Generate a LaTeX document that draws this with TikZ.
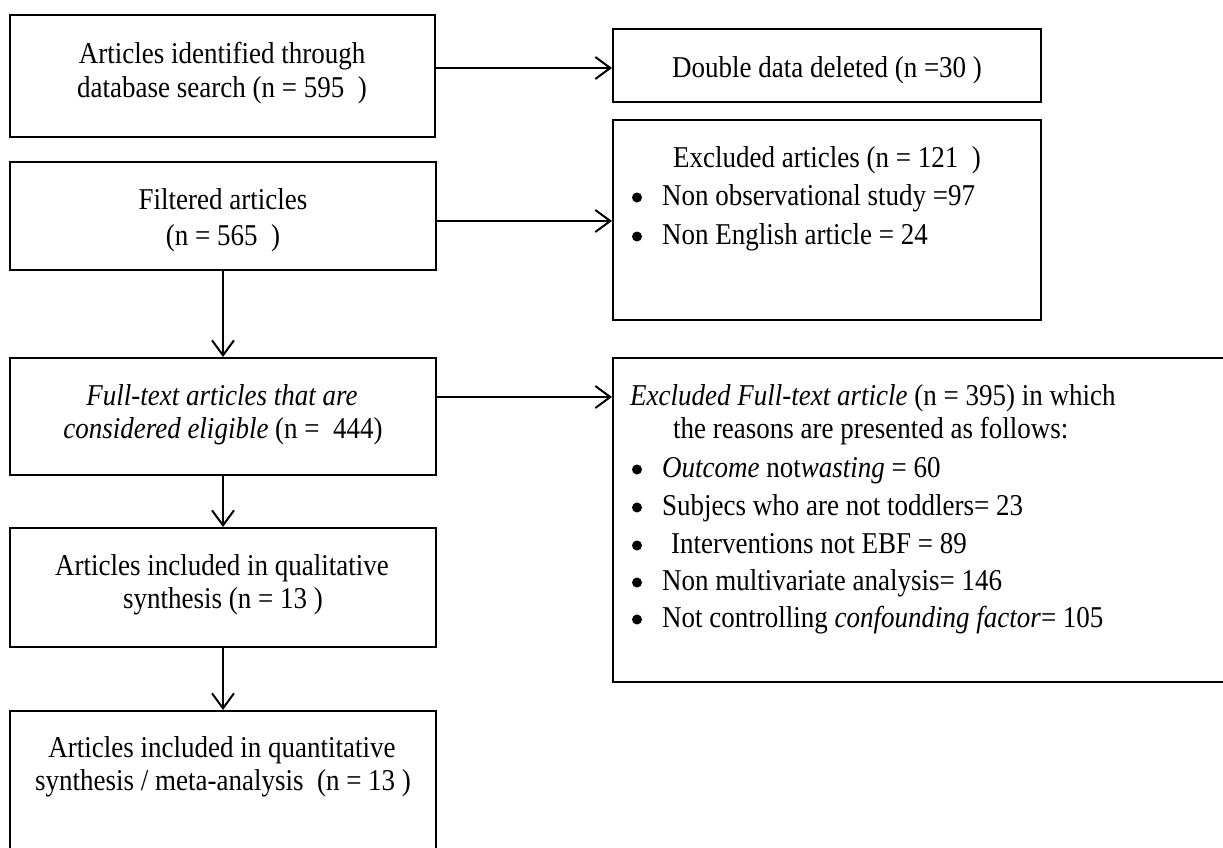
\documentclass[tikz,border=0pt]{standalone}
\usepackage{fontspec}
\usepackage{graphicx}
\setmainfont{Liberation Serif}
\usetikzlibrary{arrows.meta}
\newcommand\tx[1]{\scalebox{1}[1.12]{#1}}
\begin{document}
\begin{tikzpicture}[x=1pt,y=-1pt,
  box/.style={draw=black,line width=2pt,rectangle,inner sep=0pt},
  ln/.style={inner sep=0pt,anchor=base,font=\fontsize{27}{34}\selectfont},
  lnw/.style={inner sep=0pt,anchor=base west,font=\fontsize{27}{34}\selectfont},
  dot/.style={circle,fill=black,inner sep=0pt,minimum size=10pt},
  arr/.style={line width=2pt,-{Straight Barb[length=15pt,width=22pt,line width=2pt]}}]
\useasboundingbox (0,0) rectangle (1223,847);
\clip (0,0) rectangle (1223,847);
% boxes
\node[box,minimum width=425pt,minimum height=122pt] (b1) at (222.5,76) {};
\node[box,minimum width=428pt,minimum height=73pt] (b2) at (827,65.5) {};
\node[box,minimum width=426pt,minimum height=108pt] (b3) at (223,216) {};
\node[box,minimum width=428pt,minimum height=200pt] (b4) at (827,220) {};
\node[box,minimum width=426pt,minimum height=117pt] (b5) at (223,416.5) {};
\node[box,minimum width=627pt,minimum height=324pt] (b6) at (926.5,520) {};
\node[box,minimum width=426pt,minimum height=119pt] (b7) at (223,587.5) {};
\node[box,minimum width=426pt,minimum height=159pt] (b8) at (223,790.5) {};
% texts
\node[ln] (t1a) at (222,63) {\tx{Articles identified through}};
\node[ln] (t1b) at (222,97) {\tx{database search (n = 595~~)}};
\node[ln] (t2) at (827,77) {\tx{Double data deleted (n =30 )}};
\node[ln] (t3a) at (223,209) {\tx{Filtered articles}};
\node[ln] (t3b) at (223,245) {\tx{(n = 565~~)}};
\node[ln] (t4a) at (827,167) {\tx{Excluded articles (n = 121~~)}};
\node[dot] (t4b) at (637,197.5) {};
\node[lnw] (t4c) at (662,205) {\tx{Non observational study =97}};
\node[dot] (t4d) at (637,236.5) {};
\node[lnw] (t4e) at (662,244) {\tx{Non English article = 24}};
\node[ln] (t5a) at (222,405) {\tx{\itshape Full-text articles that are}};
\node[ln] (t5b) at (223,438) {\tx{\textit{considered eligible} (n =~~444)}};
\node[lnw] (t6a) at (630,405) {\tx{\textit{Excluded Full-text article} (n = 395) in which}};
\node[lnw] (t6b) at (673,438) {\tx{the reasons are presented as follows:}};
\node[dot] (u1) at (637,469.5) {};
\node[lnw] (v1) at (662,477) {\tx{\textit{Outcome} not\textit{wasting} = 60}};
\node[dot] (u2) at (637,507.5) {};
\node[lnw] (v2) at (662,515) {\tx{Subjecs who are not toddlers= 23}};
\node[dot] (u3) at (637,545.5) {};
\node[lnw] (v3) at (671,553) {\tx{Interventions not EBF = 89}};
\node[dot] (u4) at (637,582.5) {};
\node[lnw] (v4) at (662,590) {\tx{Non multivariate analysis= 146}};
\node[dot] (u5) at (637,619.5) {};
\node[lnw] (v5) at (662,627) {\tx{Not controlling \textit{confounding factor}= 105}};
\node[ln] (t7a) at (222,575) {\tx{Articles included in qualitative}};
\node[ln] (t7b) at (223,608) {\tx{synthesis (n = 13 )}};
\node[ln] (t8a) at (222,757) {\tx{Articles included in quantitative}};
\node[ln] (t8b) at (223,790) {\tx{synthesis / meta-analysis~~(n = 13 )}};
% arrows
\draw[arr] ([yshift=8pt]b1.east) coordinate (a1) -- (a1 -| b2.west);
\draw[arr] ([yshift=-5pt]b3.east) coordinate (a2) -- (a2 -| b4.west);
\draw[arr] ([yshift=19.5pt]b5.east) coordinate (a3) -- (a3 -| b6.west);
\draw[arr] (b3.south) -- (b5.north);
\draw[arr] (b5.south) -- (b7.north);
\draw[arr] (b7.south) -- (b8.north);
\end{tikzpicture}
\end{document}
